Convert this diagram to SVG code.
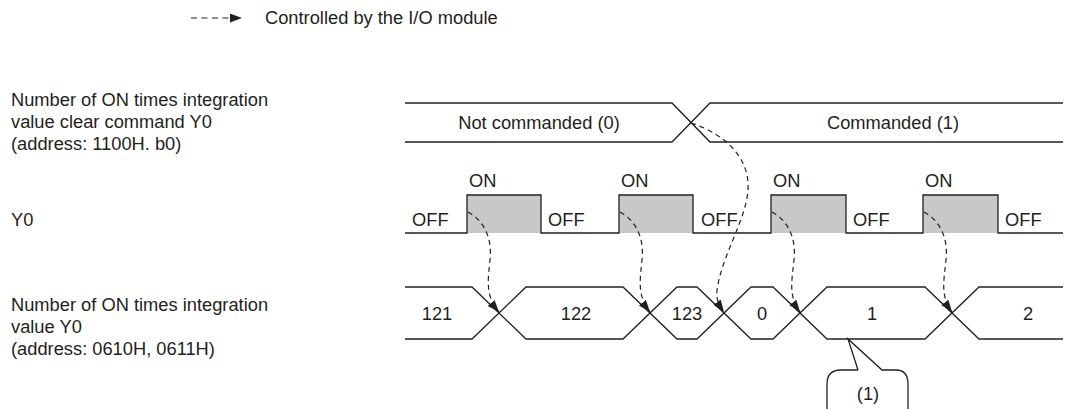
<svg xmlns="http://www.w3.org/2000/svg" width="1065" height="409" viewBox="0 0 1065 409">
<style>
text{font-family:"Liberation Sans",Arial,sans-serif;font-size:18.3px;fill:#231f20}
.c{text-anchor:middle}
.sig{fill:none;stroke:#231f20;stroke-width:1.3}
.dash{fill:none;stroke:#231f20;stroke-width:1.2;stroke-dasharray:5 4}
.on{fill:#c8c8c8}
</style>
<defs>
<marker id="ah" markerUnits="userSpaceOnUse" markerWidth="13" markerHeight="10" refX="12" refY="4.5" orient="auto">
<path d="M0,0 L12,4.5 L0,9 z" fill="#231f20"/>
</marker>
</defs>
<rect width="1065" height="409" fill="#fff"/>
<g id="legend">
<path class="dash" d="M191,18 H242" style="stroke-dasharray:6 4.5" marker-end="url(#ah)"/>
<text x="265" y="24">Controlled by the I/O module</text>
</g>
<g id="label-clear">
<text x="11" y="106">Number of ON times integration</text>
<text x="11" y="128">value clear command Y0</text>
<text x="11" y="150">(address: 1100H. b0)</text>
</g>
<g id="label-y0">
<text x="11" y="226">Y0</text>
</g>
<g id="label-value">
<text x="11" y="311">Number of ON times integration</text>
<text x="11" y="333">value Y0</text>
<text x="11" y="355">(address: 0610H, 0611H)</text>
</g>
<g id="signal-clear">
<path class="sig" d="M405,103 H672 L710,142 H1063 M405,142 H672 L710,103 H1063"/>
<text class="c" x="539" y="129">Not commanded (0)</text>
<text class="c" x="893" y="129">Commanded (1)</text>
</g>
<g id="signal-y0">
<rect class="on" x="467" y="195" width="74" height="38"/>
<rect class="on" x="619" y="195" width="74" height="38"/>
<rect class="on" x="771" y="195" width="75" height="38"/>
<rect class="on" x="923" y="195" width="75" height="38"/>
<path class="sig" d="M405,233 H467 V195 H541 V233 H619 V195 H693 V233 H771 V195 H846 V233 H923 V195 H998 V233 H1063"/>
<text x="469" y="187">ON</text>
<text x="621" y="187">ON</text>
<text x="773" y="187">ON</text>
<text x="925" y="187">ON</text>
<text x="412" y="226">OFF</text>
<text x="548" y="226">OFF</text>
<text x="701" y="226">OFF</text>
<text x="853" y="226">OFF</text>
<text x="1005" y="226">OFF</text>
</g>
<g id="signal-value">
<path class="sig" d="M405,287 H472 L526,339 H623 L677,287 H697 L751,339 H773 L827,287 H925 L979,339 H1063 M405,339 H472 L526,287 H623 L677,339 H697 L751,287 H773 L827,339 H925 L979,287 H1063"/>
<text class="c" x="437" y="319.5">121</text>
<text class="c" x="576" y="319.5">122</text>
<text class="c" x="687" y="319.5">123</text>
<text class="c" x="762" y="319.5">0</text>
<text class="c" x="872" y="319.5">1</text>
<text class="c" x="1028" y="319.5">2</text>
</g>
<g id="callout">
<path class="sig" d="M858,370 L848,339 L882,370 H896 Q908,370 908,384 V412 M858,370 H841 Q827,370 827,384 V412"/>
<text class="c" x="868" y="400">(1)</text>
</g>
<g id="connectors">
<path class="dash" d="M468,212 C486,222 492,240 490,260 C488,280 485,296 499,312" marker-end="url(#ah)"/>
<path class="dash" d="M620,212 C638,222 644,240 642,260 C640,280 637,296 650,312" marker-end="url(#ah)"/>
<path class="dash" d="M772,212 C790,222 796,240 794,260 C792,280 788,296 800,312" marker-end="url(#ah)"/>
<path class="dash" d="M924,212 C942,222 948,240 946,260 C944,280 940,296 952,312" marker-end="url(#ah)"/>
<path class="dash" d="M691,123 C728,135 750,160 748,190 C746,220 722,255 717,290 C716,300 719,305 724,312" marker-end="url(#ah)"/>
</g>
</svg>
